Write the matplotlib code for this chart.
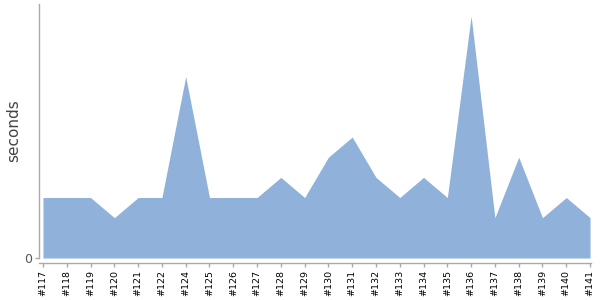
import matplotlib
matplotlib.use("Agg")
import matplotlib.pyplot as plt

builds = ["#117", "#118", "#119", "#120", "#121", "#122", "#124", "#125", "#126", "#127",
          "#128", "#129", "#130", "#131", "#132", "#133", "#134", "#135", "#136", "#137",
          "#138", "#139", "#140", "#141"]
seconds = [3, 3, 3, 2, 3, 3, 9, 3, 3, 3, 4, 3, 5, 6, 4, 3, 4, 3, 12, 2, 5, 2, 3, 2]

fig = plt.figure(figsize=(6, 3), dpi=100)
ax = fig.add_axes([39.5 / 600, 42 / 300, (591 - 39.5) / 600, 254 / 300])

x = list(range(len(builds)))
ax.fill_between(x, 0, seconds, color="#8FB1DA", linewidth=0)

ax.set_xlim(-0.147, len(builds) - 1 + 0.04)
ax.set_ylim(0, 12.6)

for s in ["top", "right"]:
    ax.spines[s].set_visible(False)
for s in ["left", "bottom"]:
    ax.spines[s].set_color("#AAAAAA")
    ax.spines[s].set_linewidth(1)
ax.spines["bottom"].set_position(("outward", 3.6))
ax.tick_params(axis="both", colors="#AAAAAA", length=3, width=1, pad=2)
ax.tick_params(axis="x", labelrotation=90, labelsize=6.8, labelcolor="black")
ax.tick_params(axis="y", labelsize=9, labelcolor="#555555")

ax.set_xticks(x)
ax.set_xticklabels(builds)
ax.set_yticks([0])
ax.set_yticklabels(["0"])
ax.set_ylabel("seconds", fontsize=11, color="#444444")
ax.yaxis.set_label_coords(-(39.5 - 21) / 551.5, 0.5)

fig.savefig("out.png", dpi=100)
